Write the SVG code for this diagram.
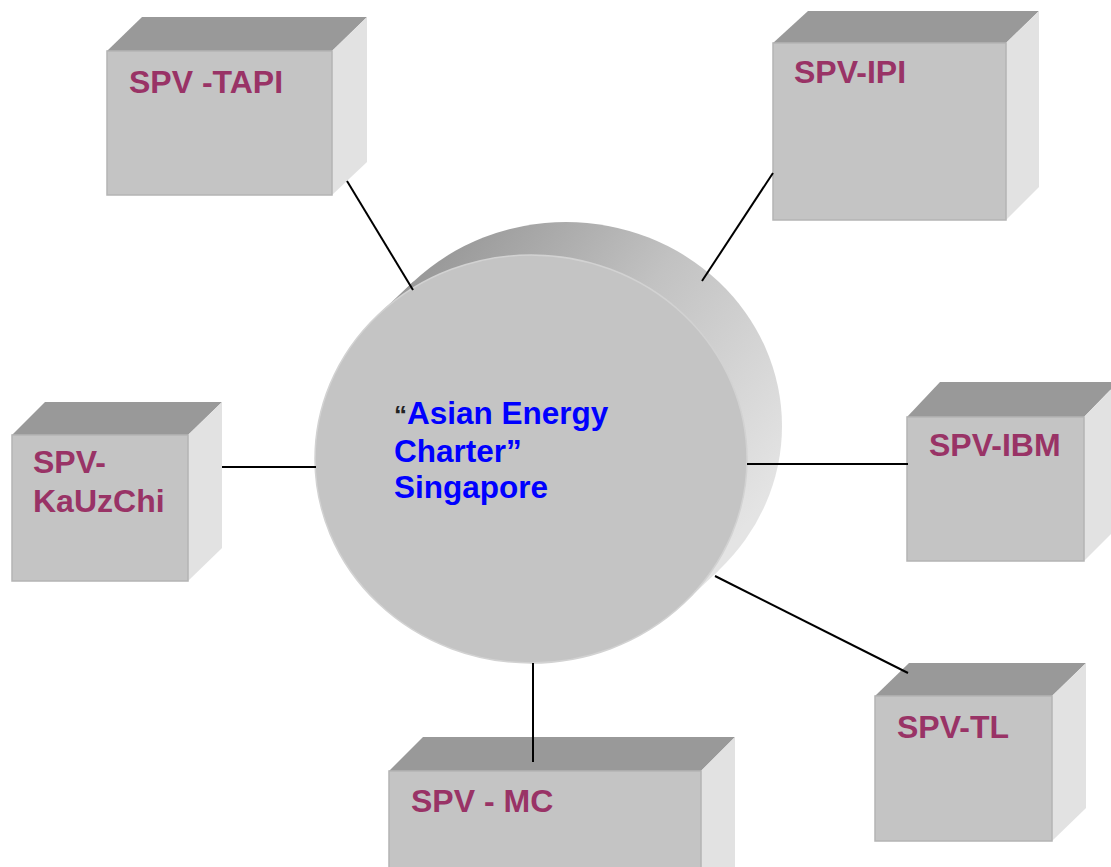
<svg xmlns="http://www.w3.org/2000/svg" width="1111" height="867" viewBox="0 0 1111 867">
<style>
.front{fill:#c4c4c4;stroke:#b4b4b4;stroke-width:1.5}
.top{fill:#999999}
.side{fill:#e2e2e2}
.lbl{font-family:"Liberation Sans",Arial,sans-serif;font-weight:bold;font-size:32px;fill:#993366}
.ctr{font-family:"Liberation Sans",Arial,sans-serif;font-weight:bold;font-size:31.5px;fill:#0000ff}
.conn{stroke:#000;stroke-width:2;fill:none}
</style>
<defs>
<linearGradient id="cyl" gradientUnits="userSpaceOnUse" x1="470" y1="220" x2="790" y2="470">
<stop offset="0" stop-color="#9a9a9a"/>
<stop offset="0.45" stop-color="#c2c2c2"/>
<stop offset="1" stop-color="#e4e4e4"/>
</linearGradient>
</defs>
<rect width="1111" height="867" fill="#ffffff"/>
<g id="hub">
<ellipse cx="566" cy="426" rx="216" ry="204" fill="url(#cyl)"/>
<polygon points="683.6,603.4 718.6,570.4 413.4,281.6 378.4,314.6" fill="url(#cyl)"/>
<ellipse cx="531" cy="459" rx="216" ry="204" fill="#c4c4c4" stroke="#d2d2d2" stroke-width="1.5"/>
<text class="ctr" x="394" y="424"><tspan fill="#222222" font-size="26">“</tspan>Asian Energy</text>
<text class="ctr" x="394" y="462">Charter”</text>
<text class="ctr" x="394" y="498">Singapore</text>
</g>
<g id="spv-tapi">
<polygon class="top" points="107,51 142,17 367,17 332,51"/>
<polygon class="side" points="332,51 367,17 367,162 332,195"/>
<rect class="front" x="107" y="51" width="225" height="144"/>
<text class="lbl" x="129" y="93">SPV -TAPI</text>
</g>
<g id="spv-ipi">
<polygon class="top" points="773,43 808,11 1039,11 1006,43"/>
<polygon class="side" points="1006,43 1039,11 1039,187 1006,220"/>
<rect class="front" x="773" y="43" width="233" height="177"/>
<text class="lbl" x="794" y="83">SPV-IPI</text>
</g>
<g id="spv-kauzchi">
<polygon class="top" points="12,435 45,402 222,402 188,435"/>
<polygon class="side" points="188,435 222,402 222,548 188,581"/>
<rect class="front" x="12" y="435" width="176" height="146"/>
<text class="lbl" x="33" y="473">SPV-</text>
<text class="lbl" x="33" y="512">KaUzChi</text>
</g>
<g id="spv-ibm">
<polygon class="top" points="907,417 940,382 1118,382 1084,417"/>
<polygon class="side" points="1084,417 1118,382 1118,527 1084,561"/>
<rect class="front" x="907" y="417" width="177" height="144"/>
<text class="lbl" x="929" y="456">SPV-IBM</text>
</g>
<g id="spv-tl">
<polygon class="top" points="875,696 909,663 1086,663 1052,696"/>
<polygon class="side" points="1052,696 1086,663 1086,808 1052,841"/>
<rect class="front" x="875" y="696" width="177" height="145"/>
<text class="lbl" x="897" y="738">SPV-TL</text>
</g>
<g id="spv-mc">
<polygon class="top" points="389,771 423,737 735,737 701,771"/>
<polygon class="side" points="701,771 735,737 735,880 701,880"/>
<rect class="front" x="389" y="771" width="312" height="110"/>
<text class="lbl" x="411" y="812">SPV - MC</text>
</g>
<g id="connectors">
<line class="conn" x1="347" y1="181" x2="413" y2="290"/>
<line class="conn" x1="773" y1="173" x2="702" y2="281"/>
<line class="conn" x1="222" y1="467" x2="316" y2="467"/>
<line class="conn" x1="747" y1="464" x2="908" y2="464"/>
<line class="conn" x1="715" y1="576" x2="908" y2="673"/>
<line class="conn" x1="533" y1="663" x2="533" y2="762"/>
</g>
</svg>
